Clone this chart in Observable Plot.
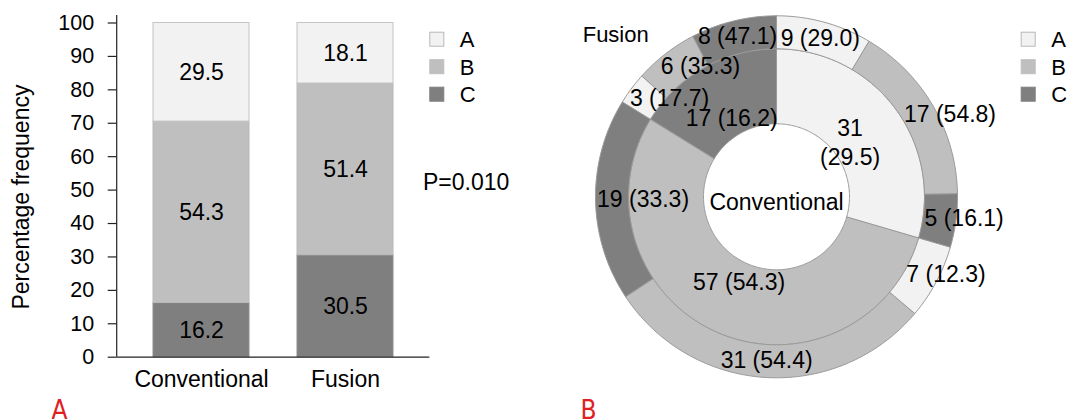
<!DOCTYPE html>
<html>
<head>
<meta charset="utf-8">
<script src="https://cdn.jsdelivr.net/npm/d3@7"></script>
<script src="https://cdn.jsdelivr.net/npm/@observablehq/plot@0.6"></script>
<style>
  html, body { margin: 0; padding: 0; background: #fff; }
  #wrap { position: relative; width: 1070px; height: 420px; overflow: hidden; font-family: "Liberation Sans", Arial, Helvetica, sans-serif; }
  #panelA { position: absolute; left: 0; top: 0; }
  #panelB { position: absolute; left: 560px; top: 0; }
  #overlay { position: absolute; left: 0; top: 0; pointer-events: none; }
</style>
</head>
<body>
<div id="wrap">
  <div id="panelA"></div>
  <div id="panelB"></div>
  <svg id="overlay" width="1070" height="420"></svg>
</div>
<script>
// ---------- data ----------
const groups = ["Conventional", "Fusion"];
const categories = ["A", "B", "C"];
const conventionalPct = [29.5, 54.3, 16.2];   // A, B, C
const fusionPct = [18.1, 51.4, 30.5];         // A, B, C
const yTicks = [0, 10, 20, 30, 40, 50, 60, 70, 80, 90, 100];
const pValueText = "P=0.010";

// donut: inner ring = conventional grade counts (A, B, C)
const conventionalCounts = [31, 57, 17];
// outer ring = fusion grade (A, B, C) within each conventional grade
const fusionCounts = [[9, 17, 5], [7, 31, 19], [3, 6, 8]];
const fusionWithinPct = [[29.0, 54.8, 16.1], [12.3, 54.4, 33.3], [17.7, 35.3, 47.1]];

// ---------- styles ----------
const FONT = '"Liberation Sans", Arial, Helvetica, sans-serif';
const fills = ["#f2f2f2", "#bfbfbf", "#7f7f7f"];
const strokes = ["#c4c4c4", "#b9b9b9", "#8e8e8e"];
const axisColor = "#222";

// ---------- Panel A: stacked bars ----------
const barRows = [];
groups.forEach((g, gi) => {
  const pcts = gi === 0 ? conventionalPct : fusionPct;
  let acc = 0;
  ["C", "B", "A"].forEach(c => {
    const k = categories.indexOf(c);
    const v = pcts[k];
    barRows.push({group: g, cat: c, y1: acc, y2: acc + v, mid: acc + v / 2, value: v, fill: fills[k], stroke: strokes[k]});
    acc += v;
  });
});

const yAxisLine = (index, scales, values, dims) => {
  const ns = "http://www.w3.org/2000/svg";
  const l = document.createElementNS(ns, "line");
  const x = dims.marginLeft;
  l.setAttribute("x1", x); l.setAttribute("x2", x);
  l.setAttribute("y1", dims.marginTop - 7.5);
  l.setAttribute("y2", dims.height - dims.marginBottom);
  l.setAttribute("stroke", axisColor);
  l.setAttribute("stroke-width", 1.2);
  return l;
};

const chartA = Plot.plot({
  width: 540, height: 420,
  marginLeft: 116.7, marginRight: 110.7, marginTop: 22.5, marginBottom: 63.3,
  style: {fontFamily: FONT, fontSize: "22px", color: "#000", background: "transparent", overflow: "visible"},
  x: {domain: groups, paddingInner: 0.334, paddingOuter: 0.246, label: null},
  y: {domain: [0, 100], label: null},
  marks: [
    Plot.barY(barRows, {x: "group", y1: "y1", y2: "y2", fill: "fill", stroke: "stroke", strokeWidth: 1}),
    Plot.text(barRows, {x: "group", y: "mid", text: d => d.value.toFixed(1), fontSize: 23, fill: "#000"}),
    Plot.axisY({ticks: yTicks, tickSize: 9, tickPadding: 14, fontSize: 21.5, label: null, stroke: axisColor, strokeWidth: 1.2}),
    Plot.axisX({tickSize: 0, tickPadding: 13, fontSize: 23, label: null}),
    Plot.ruleY([0], {stroke: axisColor, strokeWidth: 1.2}),
    yAxisLine,
    Plot.text(["Percentage frequency"], {frameAnchor: "left", rotate: -90, textAnchor: "middle", dx: -88.7, dy: 7, lineAnchor: "bottom", fontSize: 23, fill: "#000"})
  ]
});
document.getElementById("panelA").appendChild(chartA);

// ---------- Panel B: double donut ----------
const R0 = 73, R1 = 148, R2 = 181;
const CX = 216, CY = 196.3, W = 510, H = 420;
const innerLabelR = 92, outerLabelR = (R1 + R2) / 2;

function arcPoints(id, a0, a1, rIn, rOut, fill) {
  const pts = [];
  const n = Math.max(2, Math.ceil((a1 - a0) / (Math.PI / 180)));
  for (let i = 0; i <= n; i++) {
    const a = a0 + (a1 - a0) * i / n;
    pts.push({id, fill, x: rOut * Math.sin(a), y: rOut * Math.cos(a)});
  }
  for (let i = n; i >= 0; i--) {
    const a = a0 + (a1 - a0) * i / n;
    pts.push({id, fill, x: rIn * Math.sin(a), y: rIn * Math.cos(a)});
  }
  return pts;
}

const pie = d3.pie().sort(null).value(d => d);
const innerArcs = pie(conventionalCounts);
const outerArcs = pie(fusionCounts.flat());

const ringPts = [];
const innerLabels = [];
const outerLabels = [];
innerArcs.forEach((a, i) => {
  ringPts.push(...arcPoints("in" + i, a.startAngle, a.endAngle, R0, R1, fills[i]));
  const m = (a.startAngle + a.endAngle) / 2;
  innerLabels.push({
    x: innerLabelR * Math.sin(m), y: innerLabelR * Math.cos(m),
    text: conventionalCounts[i] + (i === 0 ? "\n" : " ") + "(" + conventionalPct[i].toFixed(1) + ")"
  });
});
outerArcs.forEach((a, j) => {
  const g = Math.floor(j / 3), k = j % 3;
  ringPts.push(...arcPoints("out" + j, a.startAngle, a.endAngle, R1, R2, fills[k]));
  const m = (a.startAngle + a.endAngle) / 2;
  const side = Math.abs(Math.sin(m)) > 0.5;   // side segments: label starts just before the centroid
  outerLabels.push({
    x: outerLabelR * Math.sin(m), y: outerLabelR * Math.cos(m), side,
    text: fusionCounts[g][k] + " (" + fusionWithinPct[g][k].toFixed(1) + ")"
  });
});

const chartB = Plot.plot({
  width: W, height: H,
  marginLeft: 0, marginRight: 0, marginTop: 0, marginBottom: 0,
  style: {fontFamily: FONT, fontSize: "23px", color: "#000", background: "transparent", overflow: "visible"},
  x: {domain: [-CX, W - CX], axis: null},
  y: {domain: [CY - H, CY], axis: null},
  marks: [
    Plot.line(ringPts, {x: "x", y: "y", z: "id", fill: "fill", stroke: "#9a9a9a", strokeWidth: 1, curve: "linear-closed"}),
    Plot.text(innerLabels, {x: "x", y: "y", text: "text", fontSize: 23, fill: "#000", lineHeight: 1.25}),
    Plot.text(outerLabels.filter(d => !d.side), {x: "x", y: "y", text: "text", fontSize: 23, fill: "#000"}),
    Plot.text(outerLabels.filter(d => d.side), {x: "x", y: "y", text: "text", fontSize: 23, fill: "#000", textAnchor: "start", dx: -15}),
    Plot.text(["Conventional"], {x: () => 0, y: () => 0, dy: 5.7, fontSize: 23, fill: "#000"})
  ]
});
document.getElementById("panelB").appendChild(chartB);

// ---------- legends & annotations (overlay) ----------
const ov = d3.select("#overlay").attr("font-family", FONT);
[429.3, 1020.7].forEach(lx => {
  categories.forEach((c, i) => {
    const top = 31.7 + i * 27.5;
    ov.append("rect").attr("x", lx + 0.5).attr("y", top + 0.5).attr("width", 14).attr("height", 14)
      .attr("fill", fills[i]).attr("stroke", i === 0 ? "#b8b8b8" : fills[i]).attr("stroke-width", 1);
    ov.append("text").attr("x", lx + 30.5).attr("y", top + 7.5 + 7.9).attr("font-size", 22).attr("fill", "#000").text(c);
  });
});
ov.append("text").attr("x", 423).attr("y", 190.2).attr("font-size", 23).attr("fill", "#000").text(pValueText);
ov.append("text").attr("x", 582.7).attr("y", 42.4).attr("font-size", 22).attr("fill", "#000").text("Fusion");
ov.append("text").attr("x", 51.5).attr("y", 419).attr("font-size", 26).attr("fill", "#e0201f")
  .attr("font-family", '"Liberation Sans Narrow", "DejaVu Sans Condensed", sans-serif').text("A");
ov.append("text").attr("x", 580.5).attr("y", 419).attr("font-size", 26).attr("fill", "#e0201f")
  .attr("font-family", '"Liberation Sans Narrow", "DejaVu Sans Condensed", sans-serif').text("B");
</script>
</body>
</html>
